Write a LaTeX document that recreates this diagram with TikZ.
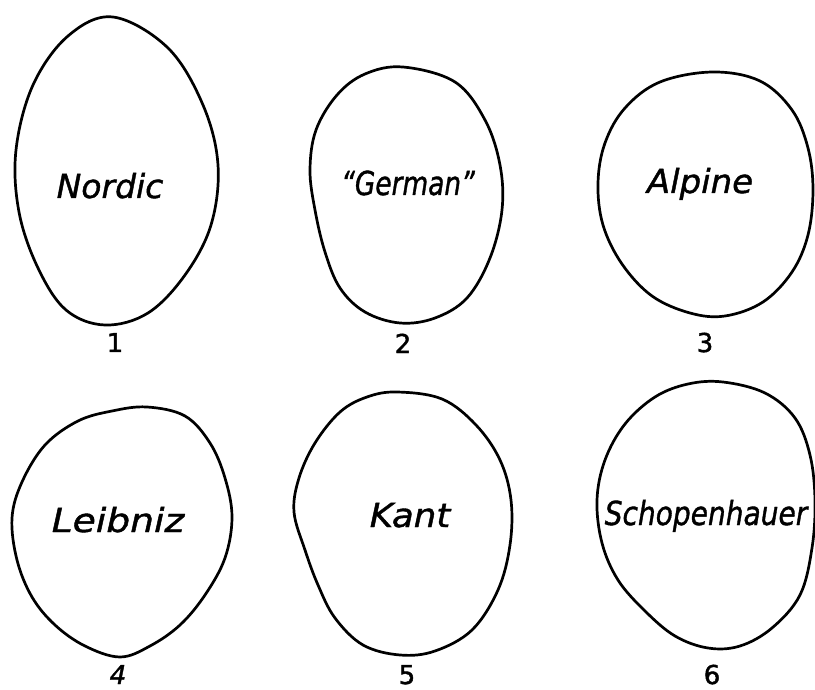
\documentclass[tikz,border=0pt]{standalone}
\usepackage{fontspec}
\setmainfont{DejaVu Sans}
\newfontfamily\handfont[FakeBold=1.2]{DejaVu Sans}
\newfontfamily\numfont[FakeBold=1.6]{DejaVu Sans}
\begin{document}
\begin{tikzpicture}[x=1pt,y=-1pt,
  skull/.style={line width=2.7pt, line join=round},
  lab/.style={font=\fontsize{33}{33}\handfont\itshape, inner sep=0pt, anchor=base},
  num/.style={font=\fontsize{26}{26}\numfont, inner sep=0pt, anchor=base}]
\useasboundingbox (0,0) rectangle (815,690);
% 1 Nordic
\draw[skull] plot[smooth cycle, tension=0.6] coordinates {(113,17) (168,48) (203,105) (218,165) (211,225) (185,275) (148,313) (105,325) (66,310) (38,268) (19,212) (16,150) (33,85) (68,36)};
% 2 German
\draw[skull] plot[smooth cycle, tension=0.6] coordinates {(403,67) (455,82) (485,120) (500,165) (502,210) (490,258) (467,298) (435,318) (400,323) (365,312) (340,288) (325,252) (315,210) (310,170) (316,130) (337,95) (365,74)};
% 3 Alpine
\draw[skull] plot[smooth cycle, tension=0.6] coordinates {(713,72) (760,81) (792,110) (808,148) (813,190) (808,235) (792,272) (763,302) (725,316) (690,313) (652,296) (622,264) (603,225) (598,183) (605,143) (625,108) (660,82)};
% 4 Leibniz
\draw[skull] plot[smooth cycle, tension=0.6] coordinates {(147,407) (185,416) (210,443) (225,478) (232,517) (225,558) (205,595) (180,625) (150,646) (120,657) (85,646) (55,625) (32,597) (17,560) (12,518) (22,482) (45,445) (78,421) (112,411)};
% 5 Kant
\draw[skull] plot[smooth cycle, tension=0.6] coordinates {(397,392) (442,399) (476,425) (500,460) (511,500) (510,545) (498,590) (472,630) (435,651) (400,655) (363,645) (335,618) (318,585) (305,550) (294,512) (299,478) (315,443) (340,412) (367,397)};
% 6 Schopenhauer
\draw[skull] plot[smooth cycle, tension=0.6] coordinates {(723,382) (765,393) (795,418) (810,455) (815,500) (812,548) (800,595) (772,628) (740,646) (708,648) (675,636) (645,611) (618,580) (602,543) (597,500) (605,460) (625,424) (655,397) (688,384)};
% labels
\node[lab] (l1) at (110,198) {\scalebox{1.0}[1]{Nordic}};
\node[lab] (l2) at (408,195) {\scalebox{0.8}[1]{“German”}};
\node[lab] (l3) at (700,193) {\scalebox{1.03}[1]{Alpine}};
\node[lab] (l4) at (118,532) {\scalebox{1.14}[1]{Leibniz}};
\node[lab] (l5) at (410,527) {\scalebox{1.08}[1]{Kant}};
\node[lab] (l6) at (706,525) {\scalebox{0.85}[1]{Schopenhauer}};
% numbers
\node[num] (n1) at (115,352) {1};
\node[num] (n2) at (403,353) {2};
\node[num] (n3) at (705,352) {3};
\node[num] (n4) at (118,684) {\itshape 4};
\node[num] (n5) at (407,684) {5};
\node[num] (n6) at (712,684) {6};
\end{tikzpicture}
\end{document}
